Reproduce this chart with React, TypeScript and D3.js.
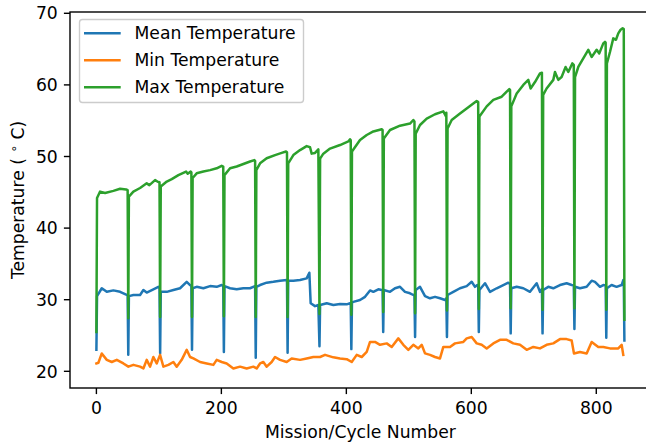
import React from "react";
import * as d3 from "d3";

// Cycle-boundary dips are included as explicit points.
const maxTemp: [number, number][] = [
  [0, 25.5], [1, 44.2], [5.9, 45.1], [13.9, 44.9], [27.2, 45.2], [37.9, 45.5], [47.5, 45.4], [50, 45.3],
  [51, 27.4], [52, 44.4], [59.2, 45.1], [69.9, 45.6], [80.5, 46.25], [84.8, 46.0], [93.9, 46.7], [97.6, 46.5], [101, 46.4],
  [102, 27.6], [103, 45.8], [112.6, 46.5], [120.6, 46.85], [131.2, 47.4], [143.5, 47.9], [146.1, 47.6], [150.9, 47.9], [152, 47.8],
  [153, 27.6], [154, 47.0], [160.5, 47.65], [171.2, 47.9], [181.9, 48.1], [192.5, 48.35], [200.5, 48.7], [203, 48.6],
  [204, 27.7], [205, 47.4], [213.9, 48.35], [224.5, 48.6], [235.2, 48.95], [245.9, 49.3], [252.8, 49.5], [254, 49.4],
  [255, 27.6], [256, 48.1], [261.9, 49.05], [272.5, 49.75], [285.9, 50.2], [296.5, 50.5], [303.5, 50.7], [305, 50.6],
  [306, 27.6], [307, 49.05], [315.2, 50.2], [325.9, 50.9], [336.5, 51.45], [341.9, 51.3], [344.5, 50.4], [349.9, 50.5], [355.2, 51.0],
  [357, 28.0], [358, 49.7], [363.2, 50.4], [373.9, 51.1], [389.9, 51.6], [403.2, 52.1], [405.9, 52.4], [407, 52.3],
  [408, 27.9], [409, 50.7], [421.9, 52.3], [432.6, 53.0], [443.2, 53.5], [456.6, 53.8], [458, 53.7],
  [459, 28.3], [460, 52.5], [469.9, 53.7], [485.9, 54.3], [501.9, 54.6], [507.2, 55.1], [509, 54.9],
  [510, 28.1], [511, 53.2], [517.9, 54.4], [528.6, 55.3], [541.9, 55.9], [555.2, 56.3], [559.5, 55.6], [560, 56.1],
  [561, 28.5], [562, 53.9], [568.6, 55.1], [581.9, 56.0], [592.6, 56.7], [603.2, 57.4], [608.6, 57.75], [611, 57.6],
  [612, 28.7], [613, 55.6], [624.6, 57.0], [635.2, 57.9], [648.6, 58.35], [656.6, 59.05], [660.8, 59.4], [662, 59.3],
  [663, 28.8], [664, 57.0], [672.6, 58.8], [683.2, 60.0], [691.2, 60.7], [694.9, 59.5], [701.9, 60.4], [709.9, 61.6], [713, 61.7],
  [714, 28.6], [715, 58.6], [720.5, 59.5], [731.2, 60.7], [733.9, 61.8], [739.2, 60.7], [744.5, 61.1], [750.9, 62.5], [755.2, 61.8], [761.6, 63.0], [764, 62.8],
  [765, 28.8], [766, 61.1], [771.2, 62.5], [779.2, 63.7], [787.2, 64.9], [792.6, 63.9], [800.6, 64.9], [804.8, 64.4], [811.2, 65.8], [813.9, 66.0], [815, 65.9],
  [816, 28.6], [817, 63.0], [821.9, 64.6], [827.2, 66.5], [831.5, 66.3], [835.2, 67.2], [838.9, 67.7], [842.2, 67.9], [844, 67.8],
  [845, 27.2],
];

const meanTemp: [number, number][] = [
  [0, 23.0], [1, 30.5], [8.6, 31.6], [16.6, 31.1], [27.2, 31.3], [37.9, 31.1], [48.5, 30.66], [50, 30.6],
  [51, 22.3], [52, 30.5], [59.2, 30.66], [69.9, 30.66], [75.2, 31.35], [80.5, 31.0], [91.2, 31.45], [99.2, 31.8], [101, 31.6],
  [102, 22.5], [103, 31.1], [112.6, 31.1], [123.2, 31.35], [133.9, 31.6], [144.5, 32.5], [149.9, 32.05], [152, 31.9],
  [153, 23.0], [154, 31.6], [160.5, 31.8], [171.2, 31.6], [181.9, 31.9], [192.5, 31.8], [200.5, 32.05], [203, 31.9],
  [204, 22.7], [205, 31.9], [213.9, 31.6], [224.5, 31.45], [235.2, 31.6], [245.9, 31.6], [253.9, 31.9], [254, 31.9],
  [255, 21.9], [256, 31.8], [261.9, 32.05], [272.5, 32.38], [283.2, 32.5], [293.9, 32.66], [304.5, 32.75], [305, 32.7],
  [306, 22.6], [307, 32.66], [315.2, 32.66], [325.9, 32.75], [336.5, 32.98], [340.8, 33.77], [342.9, 29.5], [349.9, 29.1], [355.2, 29.26],
  [357, 23.5], [358, 29.26], [368.6, 29.5], [379.2, 29.26], [389.9, 29.4], [400.6, 29.35], [405.9, 29.5], [407, 29.5],
  [408, 23.1], [409, 29.6], [411.2, 29.7], [421.9, 29.96], [429.9, 30.4], [437.9, 31.3], [443.2, 31.1], [451.2, 31.45], [456.6, 31.35], [458, 31.3],
  [459, 25.5], [460, 31.35], [469.9, 31.1], [477.9, 31.6], [485.9, 31.8], [493.9, 31.1], [501.9, 30.9], [507.2, 30.66], [509, 30.7],
  [510, 24.8], [511, 31.35], [517.9, 31.8], [525.9, 30.5], [533.9, 30.2], [541.9, 30.4], [549.9, 30.2], [557.9, 29.96], [560, 30.2],
  [561, 24.8], [562, 30.66], [571.2, 31.1], [581.9, 31.6], [592.6, 31.9], [600.6, 32.5], [605.9, 31.8], [609.6, 32.05], [611, 32.0],
  [612, 25.5], [613, 31.35], [621.9, 32.3], [629.9, 31.1], [640.6, 31.6], [651.2, 32.05], [659.2, 32.38], [662, 32.2],
  [663, 25.3], [664, 31.6], [672.6, 31.8], [683.2, 31.6], [693.9, 31.1], [704.6, 32.3], [709.9, 31.1], [713, 31.5],
  [714, 25.3], [715, 31.35], [723.2, 31.8], [731.2, 31.6], [741.9, 32.05], [752.5, 32.3], [760.6, 32.05], [764, 32.0],
  [765, 25.9], [766, 31.8], [773.9, 31.6], [784.6, 31.8], [792.6, 32.66], [797.9, 32.5], [805.9, 31.8], [811.2, 32.05], [815, 32.0],
  [816, 24.7], [817, 31.6], [824.5, 32.05], [832.5, 31.8], [840.6, 32.05], [843.2, 32.75], [844, 32.7],
  [845, 24.3],
];

const minTemp: [number, number][] = [
  [0, 21.1], [3.2, 21.2], [8.6, 22.5], [16.6, 21.6], [24.6, 21.3], [32.6, 21.6], [43.2, 21.1], [51.2, 20.65],
  [59.2, 20.9], [69.9, 20.65], [75.2, 20.4], [80.5, 21.6], [85.9, 20.65], [91.2, 22.0], [96.5, 21.1], [101.9, 22.3],
  [107.2, 20.65], [115.2, 20.9], [123.2, 21.3], [128.5, 20.65], [136.5, 21.6], [144.5, 23.0], [149.9, 22.0], [155.2, 21.8],
  [165.9, 21.3], [176.5, 21.1], [187.2, 20.9], [192.5, 21.6], [200.5, 21.3], [208.5, 21.1], [219.2, 20.4], [229.9, 20.65],
  [240.5, 20.4], [251.2, 20.65], [256.5, 20.4], [261.9, 21.1], [267.2, 21.3], [272.5, 20.65], [280.5, 21.3], [285.9, 22.0],
  [293.9, 21.6], [304.5, 21.3], [312.5, 21.8], [325.9, 21.6], [336.5, 21.8], [347.2, 22.0], [357.9, 22.0], [365.9, 22.3],
  [379.2, 21.95], [389.9, 21.8], [400.6, 21.7], [408.6, 21.3], [416.6, 22.3], [424.6, 22.0], [432.6, 22.7], [437.9, 24.1],
  [445.9, 24.1], [453.9, 23.7], [464.6, 23.9], [472.6, 23.4], [483.2, 24.6], [491.2, 23.7], [499.2, 23.0], [507.2, 23.7],
  [515.2, 23.2], [520.6, 23.7], [525.9, 22.5], [533.9, 22.3], [541.9, 22.0], [549.9, 21.8], [555.2, 23.4], [565.9, 23.4],
  [573.9, 23.9], [587.2, 24.1], [592.6, 24.6], [600.6, 24.8], [608.6, 23.9], [616.6, 23.7], [624.6, 23.2], [635.2, 23.9],
  [645.9, 24.4], [656.6, 24.4], [667.2, 23.9], [677.9, 23.7], [688.6, 23.0], [699.2, 23.4], [709.9, 23.2], [720.5, 23.7],
  [731.2, 23.9], [741.9, 24.5], [752.5, 24.5], [760.6, 24.3], [764.3, 22.5], [773.9, 22.7], [784.6, 22.5], [792.6, 24.1],
  [803.2, 23.4], [811.2, 23.4], [821.9, 23.2], [835.2, 23.2], [840.6, 23.7], [843.2, 22.3],
];

const xTicks = [0, 200, 400, 600, 800];
const yTicks = [20, 30, 40, 50, 60, 70];
const seriesNames = ["Mean Temperature", "Min Temperature", "Max Temperature"];
const seriesColors = ["#1f77b4", "#ff7f0e", "#2ca02c"];

const W = 646;
const H = 448;
const FONT = "DejaVu Sans, sans-serif";

export default function App() {
  const left = 70;
  const right = 650.8;
  const top = 12;
  const bottom = 388;
  const x = d3.scaleLinear().domain([-42.25, 887.25]).range([left, right]);
  const y = d3.scaleLinear().domain([17.67, 70.18]).range([bottom, top]);
  const line = d3
    .line<[number, number]>()
    .x((d) => x(d[0]))
    .y((d) => y(d[1]));
  const series = [meanTemp, minTemp, maxTemp];
  const fs = 17.2;
  const tick = 6.1;
  const sw = 1.4;
  const lw = 2.5;
  return (
    <svg
      width={W}
      height={H}
      style={{ position: "absolute", left: 0, top: 0, background: "#fff" }}
      fontFamily={FONT}
    >
      <rect x={0} y={0} width={W} height={H} fill="#fff" />
      <defs>
        <clipPath id="plotclip">
          <rect x={left} y={top} width={right - left} height={bottom - top} />
        </clipPath>
      </defs>
      <g clipPath="url(#plotclip)">
        {series.map((s, i) => (
          <path
            key={i}
            d={line(s) || ""}
            fill="none"
            stroke={seriesColors[i]}
            strokeWidth={lw}
            strokeLinejoin="round"
            strokeLinecap="square"
          />
        ))}
      </g>
      {/* spines */}
      <rect
        x={left}
        y={top}
        width={right - left}
        height={bottom - top}
        fill="none"
        stroke="#000"
        strokeWidth={sw}
      />
      {/* x ticks */}
      {xTicks.map((t) => (
        <g key={"x" + t}>
          <line x1={x(t)} x2={x(t)} y1={bottom} y2={bottom + tick} stroke="#000" strokeWidth={sw} />
          <text x={x(t)} y={414} fontSize={fs} textAnchor="middle" fill="#000">
            {t}
          </text>
        </g>
      ))}
      {/* y ticks */}
      {yTicks.map((t) => (
        <g key={"y" + t}>
          <line x1={left - tick} x2={left} y1={y(t)} y2={y(t)} stroke="#000" strokeWidth={sw} />
          <text x={left - 2 * tick} y={y(t)} dy="0.36em" fontSize={fs} textAnchor="end" fill="#000">
            {t}
          </text>
        </g>
      ))}
      <text x={(left + right) / 2} y={438} fontSize={fs} textAnchor="middle" fill="#000">
        Mission/Cycle Number
      </text>
      <text
        transform={`translate(24, ${(top + bottom) / 2}) rotate(-90)`}
        fontSize={fs}
        textAnchor="middle"
        fill="#000"
      >
        {"Temperature ( "}
        <tspan fontSize={fs * 0.7} dy={-6}>
          {"\u2218"}
        </tspan>
        <tspan dy={6}>{" C)"}</tspan>
      </text>
      {/* legend */}
      <g>
        <rect
          x={79.5}
          y={19.5}
          width={224}
          height={83}
          rx={3}
          ry={3}
          fill="#fff"
          fillOpacity={0.8}
          stroke="#cccccc"
          strokeWidth={sw}
        />
        {seriesNames.map((n, i) => (
          <g key={n}>
            <line
              x1={84}
              x2={120.7}
              y1={33.3 + i * 27}
              y2={33.3 + i * 27}
              stroke={seriesColors[i]}
              strokeWidth={lw}
            />
            <text x={134.5} y={33.3 + i * 27} dy="0.36em" fontSize={fs} fill="#000">
              {n}
            </text>
          </g>
        ))}
      </g>
    </svg>
  );
}
